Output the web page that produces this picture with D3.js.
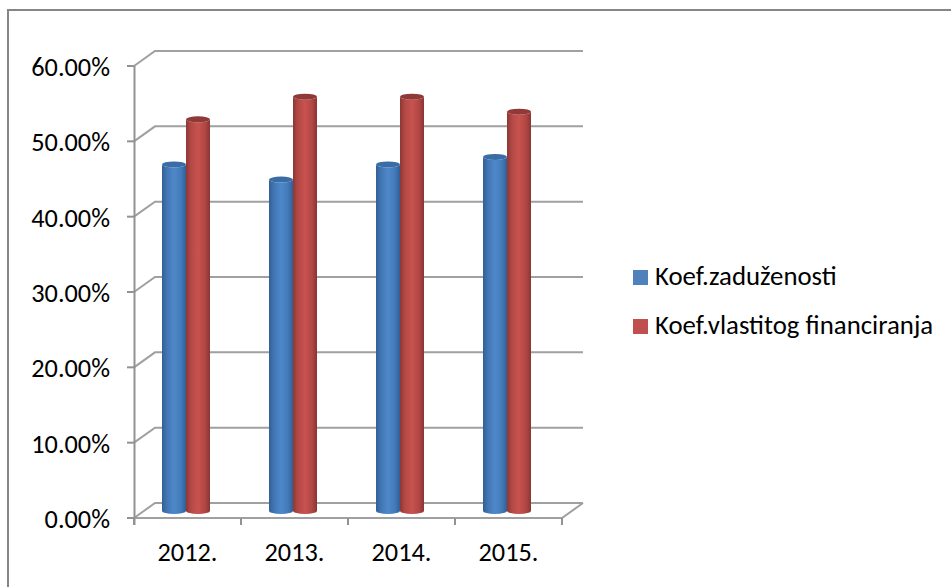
<!DOCTYPE html>
<html>
<head>
<meta charset="utf-8">
<script src="https://cdn.jsdelivr.net/npm/d3@7"></script>
<style>
  html, body { margin: 0; padding: 0; background: #fff; }
  svg { display: block; }
  text { font-family: Carlito, "Open Sans", "Noto Sans", sans-serif; fill: #000; }
</style>
</head>
<body>
<script>
// Chart values
var years = ["2012.", "2013.", "2014.", "2015."];
var koefZaduzenosti = [46, 44, 46, 47];
var koefVlastitog = [52, 55, 55, 53];
var seriesNames = ["Koef.zaduženosti", "Koef.vlastitog financiranja"];
var yTicks = [0, 10, 20, 30, 40, 50, 60];

var w = 951, h = 587;

// front plane of the axes, the back wall sits at an offset
var depthX = 21, depthY = -15;
var xscale = d3.scaleBand().domain(years).range([134, 562]);
var yscale = d3.scaleLinear().domain([0, 60]).range([518, 66]);
var barBase = 511; // centre of the cylinder bottoms
var barW = 24, barRy = 3;
var axisGrey = "#929292";

var svg = d3.select("body").append("svg").attr("width", w).attr("height", h);

// gradients for the cylinders
var defs = svg.append("defs");
function addGradient(id, stops) {
    var g = defs.append("linearGradient").attr("id", id);
    stops.forEach(function(s) {
        g.append("stop").attr("offset", s[0]).attr("stop-color", s[1]);
    });
}
addGradient("blueCyl", [[0, "#315f95"], [0.2, "#4176b3"], [0.5, "#4f88ca"], [0.8, "#4279b8"], [1, "#315f95"]]);
addGradient("redCyl", [[0, "#8c3735"], [0.2, "#b34845"], [0.5, "#c8534f"], [0.8, "#b04643"], [1, "#8a3533"]]);

// outer frame
svg.append("rect")
    .attr("x", 8).attr("y", 10)
    .attr("width", 960).attr("height", 600)
    .attr("fill", "none").attr("stroke", "#868686").attr("stroke-width", 2);

// walls: gridlines with the slanted part down to the y axis
var grid = svg.append("g").attr("fill", "none").attr("stroke", "#a0a0a0").attr("stroke-width", 2);
yTicks.forEach(function(t) {
    var y = yscale(t);
    grid.append("path").attr("d", d3.line()([
        [134, y], [134 + depthX, y + depthY], [562 + depthX, y + depthY]
    ]));
});
// floor front and right edge
grid.append("path").attr("d", d3.line()([
    [134, yscale(0)], [562, yscale(0)], [562 + depthX, yscale(0) + depthY]
]));

// y axis with ticks
var axisG = svg.append("g").attr("stroke", axisGrey).attr("stroke-width", 2).attr("fill", "none");
axisG.append("line").attr("x1", 134.5).attr("x2", 134.5).attr("y1", yscale(60)).attr("y2", yscale(0) + 7);
yTicks.forEach(function(t) {
    axisG.append("line").attr("x1", 127).attr("x2", 134).attr("y1", yscale(t)).attr("y2", yscale(t));
});
// x ticks at category edges
xscale.domain().concat(["end"]).forEach(function(d, i) {
    var x = 134 + i * xscale.bandwidth();
    axisG.append("line").attr("x1", x).attr("x2", x).attr("y1", yscale(0)).attr("y2", yscale(0) + 7);
});

// y labels
svg.append("g").selectAll("text").data(yTicks).enter().append("text")
    .attr("x", 110).attr("y", function(d) { return yscale(d) + 10; })
    .attr("text-anchor", "end")
    .style("font-size", "26.3px")
    .text(function(d) { return d.toFixed(2) + "%"; });

// x labels
svg.append("g").selectAll("text").data(years).enter().append("text")
    .attr("x", function(d) { return xscale(d) + xscale.bandwidth() / 2; })
    .attr("y", 561)
    .attr("text-anchor", "middle")
    .style("font-size", "26.3px")
    .text(function(d) { return d; });

// one cylinder: body, then darker top ellipse
function drawCylinder(g, x, value, fill, topColor) {
    var top = barBase - (yscale(0) - yscale(value));
    var rx = barW / 2;
    var d = "M" + x + "," + top +
        "L" + x + "," + barBase +
        "A" + rx + "," + barRy + " 0 0 0 " + (x + barW) + "," + barBase +
        "L" + (x + barW) + "," + top +
        "A" + rx + "," + barRy + " 0 0 1 " + x + "," + top + "Z";
    g.append("path").attr("d", d).attr("fill", fill);
    g.append("ellipse")
        .attr("cx", x + rx).attr("cy", top)
        .attr("rx", rx).attr("ry", barRy)
        .attr("fill", topColor);
}

var bars = svg.append("g");
years.forEach(function(yr, i) {
    var x0 = xscale(yr) + 28;
    drawCylinder(bars, x0, koefZaduzenosti[i], "url(#blueCyl)", "#3a6ca6");
    drawCylinder(bars, x0 + barW, koefVlastitog[i], "url(#redCyl)", "#913937");
});

// legend
var legendColors = ["#4f81bd", "#c0504d"];
var legendY = [278, 327];
var legend = svg.append("g");
seriesNames.forEach(function(name, i) {
    legend.append("rect")
        .attr("x", 633).attr("y", legendY[i] - 8)
        .attr("width", 15).attr("height", 15)
        .attr("fill", legendColors[i]);
    legend.append("text")
        .attr("x", 655).attr("y", legendY[i] + 7)
        .style("font-size", "26.8px")
        .text(name);
});
</script>
</body>
</html>
